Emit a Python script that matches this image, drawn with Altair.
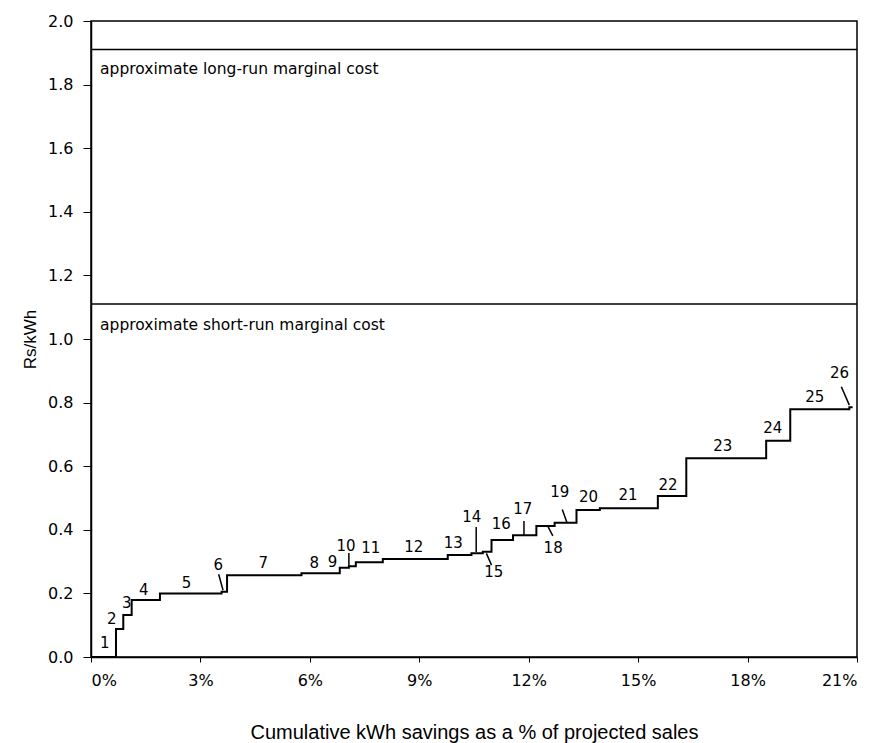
import altair as alt
import pandas as pd

# Step boundaries (cumulative % of projected sales) and cost of each measure (Rs/kWh)
step_start = [0, 0.685, 0.885, 1.115, 1.89, 3.58, 3.73, 5.77, 6.82, 7.07, 7.26, 8.0,
              9.78, 10.43, 10.74, 10.98, 11.57, 12.21, 12.71, 13.31, 13.95, 15.54,
              16.32, 18.51, 19.17, 20.79]
step_end_last = 20.88
step_cost = [0.0, 0.088, 0.132, 0.179, 0.200, 0.205, 0.257, 0.263, 0.281, 0.285, 0.298,
             0.308, 0.321, 0.326, 0.331, 0.368, 0.383, 0.412, 0.422, 0.462, 0.468,
             0.506, 0.625, 0.680, 0.779, 0.785]

# measure number labels
label_text = [str(i) for i in range(1, 27)]
label_x = [0.38, 0.57, 0.98, 1.45, 2.62, 3.49, 4.72, 6.12, 6.62, 6.99, 7.67, 8.85, 9.93,
           10.44, 11.04, 11.25, 11.84, 12.67, 12.85, 13.64, 14.72, 15.82, 17.32, 18.69,
           19.84, 20.52]
label_y = [0.044, 0.119, 0.169, 0.21, 0.234, 0.289, 0.295, 0.297, 0.30, 0.349, 0.342,
           0.347, 0.358, 0.44, 0.268, 0.418, 0.464, 0.344, 0.519, 0.503, 0.509, 0.541,
           0.664, 0.719, 0.819, 0.892]

# leader strokes from labels to steps
leader_x1 = [3.50, 7.07, 10.56, 10.84, 11.87, 12.53, 12.92, 20.57]
leader_y1 = [0.26, 0.327, 0.409, 0.326, 0.428, 0.410, 0.464, 0.85]
leader_x2 = [3.62, 7.07, 10.56, 10.98, 11.87, 12.66, 13.05, 20.79]
leader_y2 = [0.21, 0.283, 0.33, 0.289, 0.384, 0.381, 0.422, 0.792]

# marginal cost reference lines
ref_cost = [1.91, 1.11]
ref_text = ["approximate long-run marginal cost", "approximate short-run marginal cost"]
ref_text_y = [1.85, 1.045]

x_ticks = [0, 3, 6, 9, 12, 15, 18, 21]
y_ticks = [0.0, 0.2, 0.4, 0.6, 0.8, 1.0, 1.2, 1.4, 1.6, 1.8, 2.0]

steps = pd.DataFrame({"x": step_start + [step_end_last],
                      "y": step_cost + [step_cost[-1]]})
labels = pd.DataFrame({"t": label_text, "x": label_x, "y": label_y})
leaders = pd.DataFrame({"x": leader_x1, "y": leader_y1, "x2": leader_x2, "y2": leader_y2})
refs = pd.DataFrame({"y": ref_cost, "t": ref_text, "ty": ref_text_y, "x0": [0.25, 0.25]})

FONT = "DejaVu Sans"

xscale = alt.Scale(domain=[0, 21], nice=False, zero=False)
yscale = alt.Scale(domain=[0, 2], nice=False)

xaxis = alt.Axis(values=x_ticks, labelExpr="datum.value + '%'", title="Cumulative kWh savings as a % of projected sales",
                 grid=False, domainColor="black", tickColor="black", tickSize=5,
                 labelFont=FONT, labelFontSize=16, labelColor="black", labelPadding=10,
                 titleFont="Liberation Sans", titleFontSize=20, titleFontWeight="normal",
                 titleColor="black", titlePadding=34, domainWidth=1.5)
yaxis = alt.Axis(values=y_ticks, format=".1f", title="Rs/kWh", grid=False,
                 domainColor="black", tickColor="black", tickSize=8,
                 labelFont=FONT, labelFontSize=16, labelColor="black", labelPadding=10,
                 titleFont="Liberation Sans", titleFontSize=17, titleFontWeight="normal",
                 titleColor="black", titlePadding=8, domainWidth=1.5)

line = alt.Chart(steps).mark_line(interpolate="step-after", color="black", strokeWidth=2).encode(
    x=alt.X("x:Q", scale=xscale, axis=xaxis),
    y=alt.Y("y:Q", scale=yscale, axis=yaxis),
)

rules = alt.Chart(refs).mark_rule(color="black", strokeWidth=1.5).encode(
    y=alt.Y("y:Q", scale=yscale),
)

ref_labels = alt.Chart(refs).mark_text(align="left", baseline="middle", font=FONT,
                                       fontSize=15.5, color="black").encode(
    x=alt.X("x0:Q", scale=xscale),
    y=alt.Y("ty:Q", scale=yscale),
    text="t:N",
)

num_labels = alt.Chart(labels).mark_text(align="center", baseline="middle", font=FONT,
                                         fontSize=15, color="black").encode(
    x=alt.X("x:Q", scale=xscale),
    y=alt.Y("y:Q", scale=yscale),
    text="t:N",
)

leader_marks = alt.Chart(leaders).mark_rule(color="black", strokeWidth=1.5).encode(
    x=alt.X("x:Q", scale=xscale), y=alt.Y("y:Q", scale=yscale),
    x2="x2:Q", y2="y2:Q",
)

chart = alt.layer(rules, ref_labels, line, leader_marks, num_labels).properties(
    width=766, height=636,
    padding={"left": 91, "top": 21, "right": 25, "bottom": 86},
    autosize="none",
    background="white",
).configure_view(stroke="black", strokeWidth=1.5)

chart.save("out.html", embed_options={"renderer": "svg", "actions": False})
